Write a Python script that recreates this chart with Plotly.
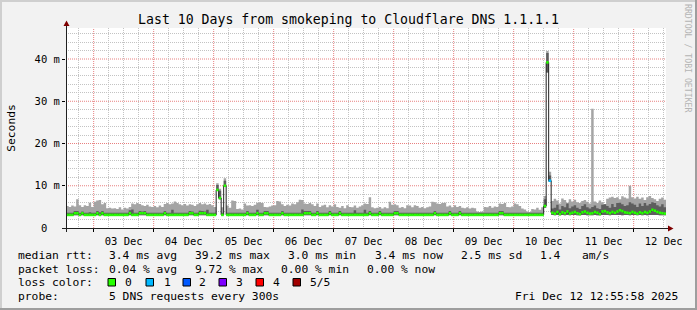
import plotly.graph_objects as go
import pandas as pd

# ---------------- data (hourly bins, milliseconds) ----------------
bin_start = "2025-12-02 13:00"
graph_end = "2025-12-12 12:55:58"

median_ms = [
    # Dec 2 (13:00-23:00)
    3.1, 3.1, 3.1, 3.5, 3.5, 3.1, 3.5, 3.1, 3.1, 3.1, 3.1,
    # Dec 3
    3.1, 3.5, 3.1, 3.5, 3.1, 3.1, 3.1, 3.1, 3.1, 3.1, 3.1, 3.1,
    3.1, 3.1, 3.5, 3.1, 3.1, 3.1, 3.5, 3.5, 3.5, 3.1, 3.1, 3.1,
    # Dec 4
    3.1, 3.1, 3.1, 3.1, 3.5, 3.1, 3.1, 3.1, 3.1, 3.1, 3.1, 3.1,
    3.1, 3.1, 3.5, 3.5, 3.1, 3.1, 3.5, 3.5, 3.5, 3.1, 3.1, 3.1,
    # Dec 5
    3.1, 9.0, 7.1, 3.1, 10.0, 3.1, 3.1, 3.1, 3.1, 3.1, 3.1, 3.1,
    3.1, 3.5, 3.1, 3.1, 3.1, 3.5, 3.1, 3.1, 3.5, 3.5, 3.1, 3.1,
    # Dec 6
    3.1, 3.1, 3.1, 3.5, 3.1, 3.1, 3.1, 3.1, 3.1, 3.1, 3.1, 3.1,
    3.5, 3.5, 3.5, 3.1, 3.1, 3.5, 3.1, 3.1, 3.1, 3.1, 3.5, 3.1,
    # Dec 7
    3.1, 3.1, 3.5, 3.1, 3.1, 3.1, 3.1, 3.1, 3.1, 3.1, 3.1, 3.1,
    3.1, 3.1, 3.5, 3.1, 3.1, 3.1, 3.5, 3.1, 3.1, 3.1, 3.1, 3.1,
    # Dec 8
    3.5, 3.5, 3.1, 3.1, 3.1, 3.1, 3.1, 3.1, 3.1, 3.1, 3.1, 3.1,
    3.1, 3.1, 3.1, 3.1, 3.5, 3.1, 3.1, 3.1, 3.1, 3.1, 3.5, 3.1,
    # Dec 9
    3.1, 3.1, 3.5, 3.1, 3.1, 3.1, 3.1, 3.1, 3.1, 3.1, 3.1, 3.1,
    3.1, 3.1, 3.1, 3.1, 3.1, 3.1, 3.5, 3.5, 3.1, 3.1, 3.1, 3.1,
    # Dec 10
    3.1, 3.1, 3.1, 3.1, 3.1, 3.1, 3.1, 3.1, 3.1, 3.1, 3.1, 3.1,
    5.2, 39.2, 11.2, 3.6, 3.4, 3.8, 3.3, 3.7, 3.5, 3.9, 3.4, 3.6,
    # Dec 11
    3.8, 3.5, 3.3, 3.7, 3.9, 3.6, 3.4, 3.5, 3.8, 3.6, 3.3, 3.9,
    4.0, 3.7, 3.5, 3.8, 3.6, 3.9, 4.2, 4.0, 3.7, 3.6, 3.5, 3.8,
    # Dec 12 (00:00-12:00)
    3.6, 3.4, 3.7, 3.5, 3.8, 3.6, 3.9, 4.3, 4.1, 3.8, 3.6, 3.5, 3.4,
]

smoke_low_ms = [
    3.0, 3.0, 3.0, 3.0, 3.0, 3.0, 3.0, 3.0, 3.0, 3.0, 3.0,
    3.0, 3.0, 3.0, 3.0, 3.0, 3.0, 3.0, 3.0, 3.0, 3.0, 3.0, 3.0,
    3.0, 3.0, 3.0, 3.0, 3.0, 3.0, 3.0, 3.0, 3.0, 3.0, 3.0, 3.0,
    3.0, 3.0, 3.0, 3.0, 3.0, 3.0, 3.0, 3.0, 3.0, 3.0, 3.0, 3.0,
    3.0, 3.0, 3.0, 3.0, 3.0, 3.0, 3.0, 3.0, 3.0, 3.0, 3.0, 3.0,
    3.0, 8.8, 6.8, 3.0, 9.8, 3.0, 3.0, 3.0, 3.0, 3.0, 3.0, 3.0,
    3.0, 3.0, 3.0, 3.0, 3.0, 3.0, 3.0, 3.0, 3.0, 3.0, 3.0, 3.0,
    3.0, 3.0, 3.0, 3.0, 3.0, 3.0, 3.0, 3.0, 3.0, 3.0, 3.0, 3.0,
    3.0, 3.0, 3.0, 3.0, 3.0, 3.0, 3.0, 3.0, 3.0, 3.0, 3.0, 3.0,
    3.0, 3.0, 3.0, 3.0, 3.0, 3.0, 3.0, 3.0, 3.0, 3.0, 3.0, 3.0,
    3.0, 3.0, 3.0, 3.0, 3.0, 3.0, 3.0, 3.0, 3.0, 3.0, 3.0, 3.0,
    3.0, 3.0, 3.0, 3.0, 3.0, 3.0, 3.0, 3.0, 3.0, 3.0, 3.0, 3.0,
    3.0, 3.0, 3.0, 3.0, 3.0, 3.0, 3.0, 3.0, 3.0, 3.0, 3.0, 3.0,
    3.0, 3.0, 3.0, 3.0, 3.0, 3.0, 3.0, 3.0, 3.0, 3.0, 3.0, 3.0,
    3.0, 3.0, 3.0, 3.0, 3.0, 3.0, 3.0, 3.0, 3.0, 3.0, 3.0, 3.0,
    3.0, 3.0, 3.0, 3.0, 3.0, 3.0, 3.0, 3.0, 3.0, 3.0, 3.0, 3.0,
    4.8, 36.8, 10.9, 3.1, 3.0, 3.1, 3.0, 3.1, 3.0, 3.1, 3.0, 3.1,
    3.1, 3.0, 3.0, 3.1, 3.1, 3.0, 3.0, 3.0, 3.1, 3.0, 3.0, 3.1,
    3.1, 3.1, 3.0, 3.1, 3.1, 3.1, 3.1, 3.0, 3.1, 3.1, 3.0, 3.1,
    3.1, 3.0, 3.1, 3.0, 3.1, 3.0, 3.1, 3.1, 3.1, 3.1, 3.0, 3.0, 3.0,
]

smoke_mid_ms = [
    3.6, 3.6, 3.6, 4.0, 4.0, 3.6, 3.9, 3.6, 3.6, 3.7, 3.6,
    3.6, 4.0, 3.7, 4.0, 3.6, 3.6, 3.6, 3.6, 3.6, 3.6, 3.6, 3.6,
    3.6, 3.6, 4.2, 4.4, 3.6, 3.6, 4.0, 3.9, 4.0, 3.6, 3.6, 3.6,
    3.6, 3.6, 3.6, 3.6, 4.0, 3.6, 3.6, 4.3, 3.6, 3.6, 3.6, 3.6,
    3.6, 3.6, 4.0, 3.9, 3.6, 3.6, 4.1, 4.0, 3.9, 4.3, 3.6, 3.6,
    3.6, 10.2, 8.8, 3.6, 11.2, 3.6, 3.6, 3.6, 3.6, 3.6, 3.6, 3.6,
    3.6, 4.0, 3.6, 3.6, 3.6, 4.3, 3.6, 3.6, 4.0, 4.0, 3.6, 3.6,
    3.6, 3.6, 3.6, 4.0, 3.6, 3.6, 3.6, 3.6, 3.6, 3.6, 3.6, 4.4,
    4.0, 4.0, 4.0, 3.6, 3.6, 4.0, 3.6, 3.6, 3.6, 3.6, 4.0, 3.6,
    3.6, 3.6, 4.0, 3.6, 3.6, 3.6, 3.6, 3.6, 4.2, 3.6, 3.6, 3.6,
    4.3, 3.6, 4.0, 3.6, 3.6, 3.6, 4.0, 3.6, 3.6, 3.6, 3.6, 3.6,
    4.0, 4.0, 3.6, 3.6, 3.6, 3.6, 3.6, 3.6, 3.6, 3.6, 3.6, 3.6,
    3.6, 3.6, 3.6, 3.6, 4.0, 3.6, 3.6, 3.6, 3.6, 3.6, 4.0, 3.6,
    3.6, 3.6, 4.0, 3.6, 3.6, 3.6, 3.6, 3.6, 3.6, 3.6, 3.6, 3.6,
    3.6, 3.6, 3.6, 3.6, 3.6, 3.6, 4.0, 4.0, 3.6, 3.6, 3.6, 3.6,
    3.6, 3.6, 3.6, 3.6, 3.6, 3.6, 3.6, 3.6, 3.6, 3.6, 3.6, 3.6,
    6.8, 41.4, 12.4, 4.6, 4.8, 5.5, 4.4, 5.2, 4.9, 5.8, 4.7, 5.1,
    5.4, 4.8, 4.5, 5.2, 5.6, 4.9, 4.6, 5.0, 5.3, 4.7, 4.5, 5.5,
    5.6, 5.2, 4.8, 5.7, 5.0, 5.9, 6.0, 5.6, 5.2, 5.4, 6.1, 5.8,
    5.5, 5.0, 5.8, 5.2, 5.9, 5.3, 5.7, 6.1, 5.9, 5.4, 5.1, 5.6, 4.9,
]

smoke_high_ms = [
    5.2, 5.0, 5.3, 5.1, 6.8, 5.4, 5.0, 5.4, 5.2, 6.0, 5.0,
    6.2, 6.5, 6.6, 5.6, 5.9, 4.7, 4.8, 4.6, 4.7, 4.5, 4.9, 4.4,
    4.8, 4.6, 5.0, 5.8, 5.6, 5.9, 5.7, 5.4, 5.2, 5.5, 5.1, 5.0,
    5.2, 4.9, 5.3, 5.0, 5.7, 5.9, 5.6, 5.8, 6.3, 5.9, 5.6, 5.4,
    5.7, 5.3, 5.6, 5.5, 5.2, 5.6, 5.9, 5.6, 5.8, 5.5, 5.7, 5.4,
    5.0, 10.6, 9.3, 4.9, 11.8, 5.3, 4.8, 6.5, 6.4, 4.5, 4.6, 4.4,
    5.8, 5.3, 5.4, 5.2, 5.5, 6.0, 6.1, 5.9, 5.0, 4.9, 5.1, 5.3,
    5.4, 6.4, 6.3, 5.6, 5.2, 5.5, 5.3, 5.8, 5.6, 6.1, 6.7, 6.6,
    5.8, 5.7, 5.9, 5.6, 5.2, 5.8, 5.0, 5.3, 5.5, 4.9, 5.4, 5.1,
    5.6, 5.0, 4.8, 5.2, 4.7, 5.4, 5.0, 4.9, 5.3, 4.8, 5.1, 5.4,
    5.8, 5.7, 7.3, 4.9, 4.7, 4.8, 5.0, 4.6, 4.9, 4.7, 6.2, 5.5,
    5.6, 5.4, 4.8, 5.0, 4.7, 5.4, 5.3, 4.9, 5.4, 5.2, 4.8, 5.0,
    4.7, 4.9, 5.1, 6.2, 6.1, 5.8, 5.7, 5.9, 6.0, 5.1, 5.3, 4.9,
    5.4, 5.0, 5.2, 4.8, 4.7, 4.9, 4.6, 4.8, 4.7, 3.9, 3.8, 3.9,
    5.0, 4.9, 5.2, 4.8, 5.1, 5.0, 5.8, 5.7, 5.9, 5.0, 4.9, 5.1,
    5.8, 5.6, 5.2, 4.6, 4.4, 3.9, 3.8, 4.5, 4.4, 4.8, 4.3, 4.9,
    7.6, 41.9, 13.3, 6.4, 6.9, 6.5, 5.8, 7.0, 6.6, 6.0, 6.8, 6.3,
    6.7, 6.1, 5.9, 6.4, 6.6, 6.2, 5.8, 28.2, 6.3, 5.9, 6.5, 6.1,
    5.7, 6.9, 7.2, 7.4, 7.1, 7.3, 6.8, 7.5, 7.2, 7.0, 10.0, 7.3,
    7.0, 7.4, 6.9, 7.2, 6.6, 7.3, 7.6, 7.1, 6.8, 6.4, 6.9, 7.2, 6.7,
]

# bins where pings were lost (bin start time -> lost pings)
loss_times = ["2025-12-10 14:00"]
loss_pings = [1]

loss_colors = ["#26ff00", "#00b8ff", "#0059ff", "#7e00ff", "#ff0000", "#a10000"]
loss_labels = ["0", "1", "2", "3", "4", "5/5"]

y_tick_vals = [0, 10, 20, 30, 40]
y_tick_text = ["0\u00a0\u00a0", "10 m", "20 m", "30 m", "40 m"]
y_minor_vals = [v for v in range(2, 48, 2) if v % 10 != 0]
x_day_vals = ["2025-12-%02d" % d for d in range(3, 13)]
x_day_text = ["%02d Dec" % d for d in range(3, 13)]
x_minor_vals = ["2025-12-02 18:00"] + ["2025-12-%02d %02d:00" % (d, h) for d in range(3, 13) for h in (6, 12, 18)]

stats_rtt = ["3.4 ms avg", "39.2 ms max", "3.0 ms min", "3.4 ms now", "2.5 ms sd", "1.4", "am/s"]
stats_loss = ["0.04 % avg", "9.72 % max", "0.00 % min", "0.00 % now"]

# ---------------- geometry ----------------
W, H = 697, 310
L, R, T, B = 66, 31, 28, 82
PW, PH = W - L - R, H - T - B
Y_MAX = 47.34

def px(x):
    return (x - L) / PW

def py(y):
    return (H - B - y) / PH

MONO = "DejaVu Sans Mono"

n = len(median_ms)
times = pd.date_range(bin_start, periods=n, freq="h")
hour = pd.Timedelta(hours=1)
step_x = list(times) + [times[-1] + hour]

def steps(v):
    return list(v) + [v[-1]]

fig = go.Figure()

# smoke (outer, light)
fig.add_trace(go.Scatter(x=step_x, y=steps(smoke_low_ms), mode="lines", line=dict(width=0, shape="hv"),
                         hoverinfo="skip", showlegend=False))
fig.add_trace(go.Scatter(x=step_x, y=steps(smoke_high_ms), mode="lines", line=dict(width=0, shape="hv"),
                         fill="tonexty", fillcolor="#a4a4a4", hoverinfo="skip", showlegend=False))
# smoke (inner, dark)
fig.add_trace(go.Scatter(x=step_x, y=steps(smoke_low_ms), mode="lines", line=dict(width=0, shape="hv"),
                         hoverinfo="skip", showlegend=False))
fig.add_trace(go.Scatter(x=step_x, y=steps(smoke_mid_ms), mode="lines", line=dict(width=0, shape="hv"),
                         fill="tonexty", fillcolor="#5e5e5e", hoverinfo="skip", showlegend=False))
# median line
fig.add_trace(go.Scatter(x=step_x, y=steps(median_ms), mode="lines",
                         line=dict(width=1, shape="hv", color="#202020"),
                         hoverinfo="skip", showlegend=False))

# median band coloured by loss
loss_map = {pd.Timestamp(t): p for t, p in zip(loss_times, loss_pings)}
for k, col in enumerate(loss_colors):
    xs, ys = [], []
    for t, m in zip(times, median_ms):
        if loss_map.get(t, 0) == k:
            xs += [t, t + hour, None]
            ys += [m, m, None]
    if xs:
        fig.add_trace(go.Scatter(x=xs, y=ys, mode="lines", line=dict(width=2.6, color=col),
                                 hoverinfo="skip", showlegend=False))

grid_minor = "#c3c3c3"
grid_major = "#e88080"

fig.update_layout(
    width=W, height=H,
    margin=dict(l=L, r=R, t=T, b=B),
    paper_bgcolor="#f2f2f2",
    plot_bgcolor="#ffffff",
    showlegend=False,
    title=dict(text="Last 10 Days from smokeping to Cloudflare DNS 1.1.1.1",
               x=0.5, xref="container", xanchor="center",
               y=1 - 19 / H, yref="container", yanchor="middle",
               font=dict(family=MONO, size=13.2, color="#000000")),
    xaxis=dict(
        type="date",
        range=[pd.Timestamp(graph_end) - pd.Timedelta(days=10), pd.Timestamp(graph_end)],
        tickmode="array", tickvals=x_day_vals, ticktext=x_day_text,
        ticklabelshift=30,
        ticks="outside", ticklen=3, tickcolor="#000000",
        tickfont=dict(family=MONO, size=10.5, color="#000000"),
        showgrid=False,
        minor=dict(tickmode="array", tickvals=x_minor_vals, showgrid=True,
                   gridcolor=grid_minor, griddash="1px,1px", gridwidth=1, ticks=""),
        showline=False, zeroline=False, fixedrange=True,
    ),
    yaxis=dict(
        range=[0, Y_MAX],
        tickmode="array", tickvals=y_tick_vals, ticktext=y_tick_text,
        ticks="outside", ticklen=3, tickcolor="#000000",
        tickfont=dict(family=MONO, size=10.5, color="#000000"),
        showgrid=False,
        minor=dict(tickmode="array", tickvals=y_minor_vals, showgrid=True, gridcolor=grid_minor,
                   griddash="1px,1px", gridwidth=1, ticks=""),
        zeroline=False, showline=False,
        title=dict(text="Seconds", font=dict(family=MONO, size=11.3, color="#000000"), standoff=16),
    ),
)

shapes = []
# major grid (red dotted) at day boundaries and every 10 ms
for d in x_day_vals:
    shapes.append(dict(type="line", xref="x", yref="paper", x0=d, x1=d, y0=0, y1=1,
                       line=dict(color=grid_major, width=1, dash="1px,1px"), layer="below"))
for v in y_tick_vals[1:]:
    shapes.append(dict(type="line", xref="paper", yref="y", x0=0, x1=1, y0=v, y1=v,
                       line=dict(color=grid_major, width=1, dash="1px,1px"), layer="below"))
# frame (rrdtool shade)
shapes.append(dict(type="rect", xref="paper", yref="paper", x0=px(0), x1=px(W), y0=py(0), y1=py(2),
                   fillcolor="#cfcfcf", line=dict(width=0), layer="above"))
shapes.append(dict(type="rect", xref="paper", yref="paper", x0=px(0), x1=px(2), y0=py(0), y1=py(H),
                   fillcolor="#cfcfcf", line=dict(width=0), layer="above"))
shapes.append(dict(type="rect", xref="paper", yref="paper", x0=px(W - 2), x1=px(W), y0=py(0), y1=py(H),
                   fillcolor="#9e9e9e", line=dict(width=0), layer="above"))
shapes.append(dict(type="rect", xref="paper", yref="paper", x0=px(0), x1=px(W), y0=py(H - 2), y1=py(H),
                   fillcolor="#9e9e9e", line=dict(width=0), layer="above"))
# axes
shapes.append(dict(type="line", xref="paper", yref="paper", x0=px(62), x1=px(670), y0=py(228.5), y1=py(228.5),
                   line=dict(color="#202020", width=1), layer="above"))
shapes.append(dict(type="line", xref="paper", yref="paper", x0=px(66.5), x1=px(66.5), y0=py(232), y1=py(24),
                   line=dict(color="#202020", width=1), layer="above"))
# arrows
shapes.append(dict(type="path", xref="paper", yref="paper",
                   path="M %f,%f L %f,%f L %f,%f Z" % (px(668), py(225.5), px(673.5), py(228.5), px(668), py(231.5)),
                   fillcolor="#7f0000", line=dict(width=0), layer="above"))
shapes.append(dict(type="path", xref="paper", yref="paper",
                   path="M %f,%f L %f,%f L %f,%f Z" % (px(63.5), py(26), px(66.5), py(20.5), px(69.5), py(26)),
                   fillcolor="#7f0000", line=dict(width=0), layer="above"))

annotations = []

def text(x, y, s, anchor="left", size=11.3, color="#000000"):
    annotations.append(dict(x=px(x), y=py(y), xref="paper", yref="paper", text=s, showarrow=False,
                            xanchor=anchor, yanchor="middle",
                            font=dict(family=MONO, size=size, color=color)))

y1, y2, y3, y4 = 255, 269, 282.5, 296
text(16, y1, "median rtt:")
for xx, s in zip([107, 193, 286, 373, 459, 538, 580], stats_rtt):
    text(xx, y1, s)
text(16, y2, "packet loss:")
for xx, s in zip([107, 193, 279, 365], stats_loss):
    text(xx, y2, s)
text(16, y3, "loss color:")
box_x = [108, 146, 183, 219, 256, 293]
lab_x = [123, 162, 197, 234, 271, 308]
for bx, lx, col, lab in zip(box_x, lab_x, loss_colors, loss_labels):
    shapes.append(dict(type="rect", xref="paper", yref="paper", x0=px(bx), x1=px(bx + 7.5),
                       y0=py(278.5), y1=py(286), fillcolor=col, line=dict(color="#000000", width=1),
                       layer="above"))
    text(lx, y3, lab)
text(16, y4, "probe:")
text(107, y4, "5 DNS requests every 300s")
text(680, y4, "Fri Dec 12 12:55:58 2025", anchor="right")

annotations.append(dict(x=px(688), y=py(58), xref="paper", yref="paper", text="RRDTOOL / TOBI OETIKER",
                        showarrow=False, textangle=90, xanchor="center", yanchor="middle",
                        font=dict(family=MONO, size=8.2, color="#b4b4b4")))

fig.update_layout(shapes=shapes, annotations=annotations)
fig.write_html("out.html")
